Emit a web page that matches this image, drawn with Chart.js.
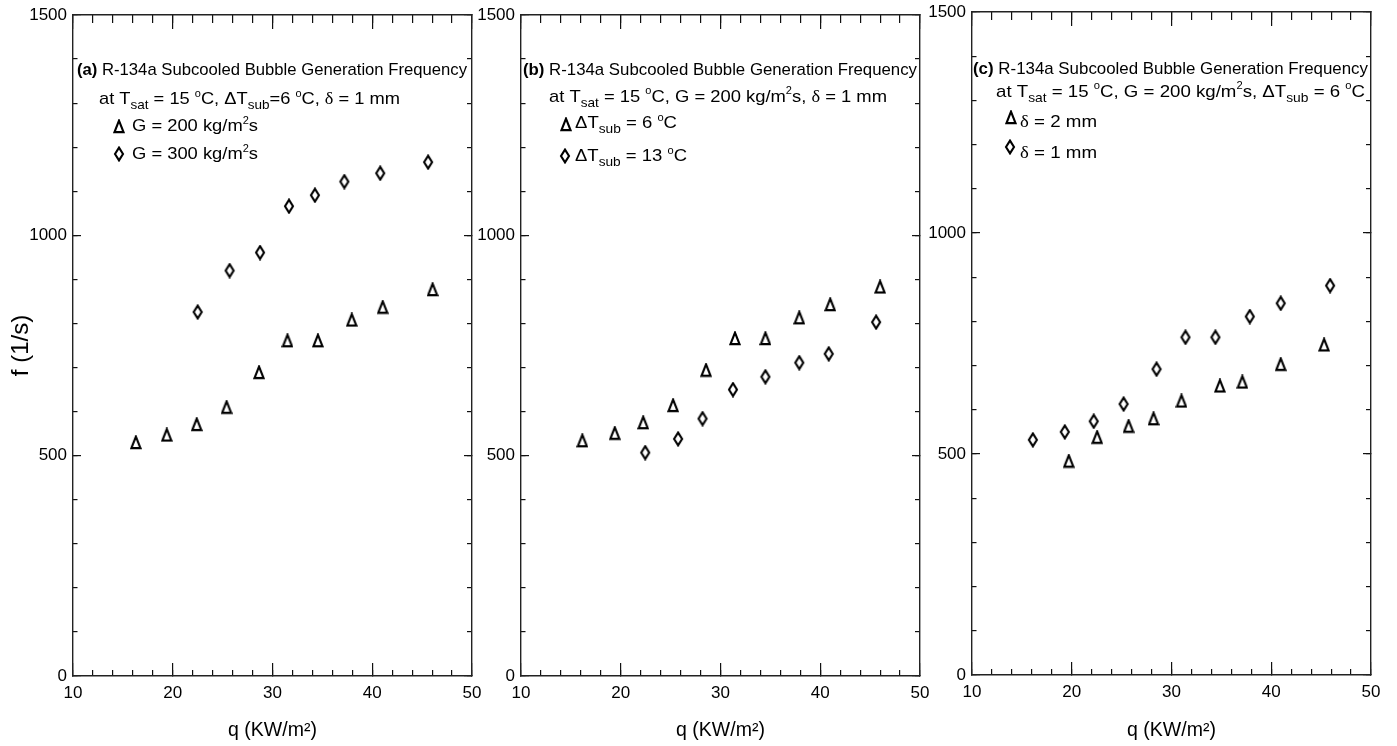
<!DOCTYPE html>
<html>
<head>
<meta charset="utf-8">
<script src="https://cdn.jsdelivr.net/npm/chart.js@4.4.1/dist/chart.umd.min.js"></script>
<style>
  html, body { margin: 0; padding: 0; background: #fff; }
  body { width: 1397px; height: 746px; position: relative; overflow: hidden; }
  canvas { position: absolute; top: 0; }
</style>
</head>
<body>
<canvas id="panelA" width="490" height="746" style="left:0px"></canvas>
<canvas id="panelB" width="490" height="746" style="left:450px"></canvas>
<canvas id="panelC" width="497" height="746" style="left:900px"></canvas>
<script>
// q = heat flux (kW/m2), f = bubble generation frequency (1/s)
// (a) effect of mass flux G
const qA_G200 = [16.3, 19.4, 22.4, 25.4, 28.65, 31.5, 34.55, 37.95, 41.05, 46.05];
const fA_G200 = [530, 547, 571, 610, 689, 761, 761, 808, 837, 877];
const qA_G300 = [22.5, 25.7, 28.75, 31.65, 34.25, 37.2, 40.8, 45.6];
const fA_G300 = [826, 920, 961, 1066, 1091, 1122, 1141, 1166];
// (b) effect of subcooling
const qB_sub6 = [16.15, 19.4, 22.25, 25.25, 28.55, 31.45, 34.5, 37.9, 41.0, 46.0];
const fB_sub6 = [534, 551, 575, 614, 694, 766, 766, 813, 843, 883];
const qB_sub13 = [22.45, 25.75, 28.2, 31.25, 34.5, 37.9, 40.85, 45.6];
const fB_sub13 = [507, 538, 584, 650, 679, 711, 731, 803];
// (c) effect of gap size
const qC_d2 = [19.7, 22.55, 25.7, 28.2, 31.0, 34.85, 37.1, 40.95, 45.3];
const fC_d2 = [484, 538, 563, 580, 620, 654, 663, 703, 747];
const qC_d1 = [16.1, 19.3, 22.2, 25.2, 28.5, 31.4, 34.4, 37.85, 40.95, 45.9];
const fC_d1 = [532, 550, 574, 613, 692, 764, 764, 811, 841, 881];

const xTicks = [10, 20, 30, 40, 50];
const yTicks = [0, 500, 1000, 1500];
const xMinorStep = 2;
const yMinorStep = 100;
const xTitle = 'q (KW/m²)';
const yTitle = 'f (1/s)';

const FONT = '"Liberation Sans", Arial, Helvetica, sans-serif';
const SERIF = '"Liberation Serif", "Times New Roman", serif';
const NOTE_SIZE = 17;
const H = 746;

Chart.defaults.font.family = FONT;
Chart.defaults.font.size = 17;
Chart.defaults.color = '#000';

// open marker symbols, narrow like in the original figure
function makeTri() {
  const c = document.createElement('canvas');
  c.width = 12; c.height = 15;
  const g = c.getContext('2d');
  g.lineWidth = 2.1; g.strokeStyle = '#000'; g.lineJoin = 'miter';
  g.beginPath();
  g.moveTo(6, 1.6); g.lineTo(10.5, 13.1); g.lineTo(1.5, 13.1); g.closePath();
  g.stroke();
  return c;
}
function makeDia() {
  const c = document.createElement('canvas');
  c.width = 12; c.height = 16;
  const g = c.getContext('2d');
  g.lineWidth = 2.1; g.strokeStyle = '#000';
  g.beginPath();
  g.moveTo(6, 1.6); g.lineTo(10, 8); g.lineTo(6, 14.4); g.lineTo(2, 8); g.closePath();
  g.stroke();
  return c;
}
const tri = makeTri();
const dia = makeDia();

function segFont(seg, size) {
  let sz = size, dy = 0;
  if (seg.sub) { sz = size * 0.74; dy = size * 0.3; }
  if (seg.sup) { sz = size * 0.6; dy = -size * 0.42; }
  return { font: (seg.b ? 'bold ' : '') + sz + 'px ' + (seg.serif ? SERIF : FONT), dy: dy };
}

// draws a line of mixed text; stretched horizontally so it ends at xEnd
function drawRich(ctx, x, y, segs, size, xEnd) {
  const parts = segs.map(s => (typeof s === 'string' ? { t: s } : s));
  let natural = 0;
  parts.forEach(p => { ctx.font = segFont(p, size).font; natural += ctx.measureText(p.t).width; });
  const sx = xEnd ? (xEnd - x) / natural : 1;
  ctx.save();
  ctx.translate(x, y);
  ctx.scale(sx, 1);
  ctx.textBaseline = 'alphabetic';
  ctx.textAlign = 'left';
  ctx.fillStyle = '#000';
  let cx = 0;
  parts.forEach(p => {
    const f = segFont(p, size);
    ctx.font = f.font;
    ctx.fillText(p.t, cx, f.dy);
    cx += ctx.measureText(p.t).width;
  });
  ctx.restore();
}

function notesPlugin(lines, ox) {
  return {
    id: 'notes',
    afterDraw(chart) {
      const ctx = chart.ctx;
      ctx.save();
      lines.forEach(l => {
        if (l.mark) ctx.drawImage(l.mark, Math.round(l.mx - ox - l.mark.width / 2), Math.round(l.my - l.mark.height / 2));
        drawRich(ctx, l.x - ox, l.y, l.segs, NOTE_SIZE, l.end - ox);
      });
      ctx.restore();
    }
  };
}

const B = t => ({ t: t, b: true });
const SUB = t => ({ t: t, sub: true });
const SUP = t => ({ t: t, sup: true });
const GR = t => ({ t: t, serif: true });
const head = ' R-134a Subcooled Bubble Generation Frequency';

const panels = [
  {
    id: 'panelA', ox: 0, w: 490, area: { left: 73, right: 472, top: 15, bottom: 676 }, showYTitle: true,
    sets: [[qA_G200, fA_G200, tri, 'G = 200 kg/m²s'], [qA_G300, fA_G300, dia, 'G = 300 kg/m²s']],
    notes: [
      { x: 77, y: 75, end: 467, segs: [B('(a)'), head] },
      { x: 99, y: 104, end: 400, segs: ['at T', SUB('sat'), ' = 15 ', SUP('o'), 'C, ΔT', SUB('sub'), '=6 ', SUP('o'), 'C, ', GR('δ'), ' = 1 mm'] },
      { x: 132, y: 131, end: 258, mark: tri, mx: 119, my: 126.5, segs: ['G = 200 kg/m', SUP('2'), 's'] },
      { x: 132, y: 159, end: 258, mark: dia, mx: 118.5, my: 153.5, segs: ['G = 300 kg/m', SUP('2'), 's'] }
    ]
  },
  {
    id: 'panelB', ox: 450, w: 490, area: { left: 521, right: 920, top: 15, bottom: 676 }, showYTitle: false,
    sets: [[qB_sub6, fB_sub6, tri, 'ΔTsub = 6 °C'], [qB_sub13, fB_sub13, dia, 'ΔTsub = 13 °C']],
    notes: [
      { x: 523, y: 75, end: 917, segs: [B('(b)'), head] },
      { x: 549, y: 101.5, end: 887, segs: ['at T', SUB('sat'), ' = 15 ', SUP('o'), 'C, G = 200 kg/m', SUP('2'), 's, ', GR('δ'), ' = 1 mm'] },
      { x: 575, y: 128, end: 677, mark: tri, mx: 565.5, my: 124, segs: ['ΔT', SUB('sub'), ' = 6 ', SUP('o'), 'C'] },
      { x: 575, y: 161, end: 687, mark: dia, mx: 565, my: 156, segs: ['ΔT', SUB('sub'), ' = 13 ', SUP('o'), 'C'] }
    ]
  },
  {
    id: 'panelC', ox: 900, w: 497, area: { left: 972, right: 1371, top: 12, bottom: 675 }, showYTitle: false,
    sets: [[qC_d2, fC_d2, tri, 'δ = 2 mm'], [qC_d1, fC_d1, dia, 'δ = 1 mm']],
    notes: [
      { x: 973, y: 74, end: 1368, segs: [B('(c)'), head] },
      { x: 996, y: 96.5, end: 1365, segs: ['at T', SUB('sat'), ' = 15 ', SUP('o'), 'C, G = 200 kg/m', SUP('2'), 's, ΔT', SUB('sub'), ' = 6 ', SUP('o'), 'C'] },
      { x: 1020, y: 127, end: 1097, mark: tri, mx: 1011, my: 117.5, segs: [GR('δ'), ' = 2 mm'] },
      { x: 1020, y: 158, end: 1097, mark: dia, mx: 1010, my: 147, segs: [GR('δ'), ' = 1 mm'] }
    ]
  }
];

function tickGrid(len) {
  return { drawOnChartArea: false, drawTicks: true, tickLength: -len, color: '#111', lineWidth: 1.2 };
}
function fixSize(w, h) {
  return s => {
    if (w !== null) s.width = w;
    if (h !== null) s.height = h;
    s.paddingLeft = 0; s.paddingRight = 0; s.paddingTop = 0; s.paddingBottom = 0;
  };
}
const axisBorder = { display: true, color: '#222', width: 1.4 };
const noBorder = { display: false };
const plain = v => String(v);

function buildScales(p) {
  const xr = { type: 'linear', min: xTicks[0], max: xTicks[xTicks.length - 1] };
  const yr = { type: 'linear', min: yTicks[0], max: yTicks[yTicks.length - 1] };
  const xStep = xTicks[1] - xTicks[0];
  const yStep = yTicks[1] - yTicks[0];
  const yw = p.area.left - p.ox;
  const xh = H - p.area.bottom;
  return {
    x: Object.assign({}, xr, {
      position: 'bottom', weight: 1,
      ticks: { stepSize: xStep, autoSkip: false, maxRotation: 0, padding: 20, callback: plain },
      grid: tickGrid(13), border: axisBorder,
      title: { display: true, text: xTitle, font: { size: 19.5 }, padding: { top: 0, bottom: 4 } },
      afterFit: fixSize(null, xh)
    }),
    xMinor: Object.assign({}, xr, {
      position: 'bottom', weight: 0,
      ticks: { display: false, stepSize: xMinorStep },
      grid: tickGrid(6), border: noBorder, afterFit: fixSize(null, 0)
    }),
    xTop: Object.assign({}, xr, {
      position: 'top', weight: 1,
      ticks: { display: false, stepSize: xStep },
      grid: tickGrid(14), border: axisBorder, afterFit: fixSize(null, 0)
    }),
    xTopMinor: Object.assign({}, xr, {
      position: 'top', weight: 0,
      ticks: { display: false, stepSize: xMinorStep },
      grid: tickGrid(8), border: noBorder, afterFit: fixSize(null, 0)
    }),
    y: Object.assign({}, yr, {
      position: 'left', weight: 1,
      ticks: { stepSize: yStep, autoSkip: false, padding: 14, callback: plain },
      grid: tickGrid(8), border: axisBorder,
      title: { display: p.showYTitle, text: yTitle, font: { size: 24 }, padding: { top: 7, bottom: 0 } },
      afterFit: fixSize(yw, null)
    }),
    yMinor: Object.assign({}, yr, {
      position: 'left', weight: 0,
      ticks: { display: false, stepSize: yMinorStep },
      grid: tickGrid(4.5), border: noBorder, afterFit: fixSize(0, null)
    }),
    yRight: Object.assign({}, yr, {
      position: 'right', weight: 1,
      ticks: { display: false, stepSize: yStep },
      grid: tickGrid(8), border: axisBorder, afterFit: fixSize(0, null)
    }),
    yRightMinor: Object.assign({}, yr, {
      position: 'right', weight: 0,
      ticks: { display: false, stepSize: yMinorStep },
      grid: tickGrid(5), border: noBorder, afterFit: fixSize(0, null)
    })
  };
}

panels.forEach(p => {
  const datasets = p.sets.map(([qs, fs, mark, label]) => ({
    label: label,
    data: qs.map((q, i) => ({ x: q, y: fs[i] })),
    pointStyle: mark,
    pointRadius: 6,
    showLine: false,
    xAxisID: 'x',
    yAxisID: 'y'
  }));
  new Chart(document.getElementById(p.id), {
    type: 'scatter',
    data: { datasets: datasets },
    options: {
      responsive: false,
      animation: false,
      devicePixelRatio: 1,
      layout: { padding: { left: 0, top: p.area.top, right: (p.ox + p.w) - p.area.right, bottom: 0 } },
      plugins: { legend: { display: false }, tooltip: { enabled: false } },
      scales: buildScales(p)
    },
    plugins: [notesPlugin(p.notes, p.ox)]
  });
});
</script>
</body>
</html>
